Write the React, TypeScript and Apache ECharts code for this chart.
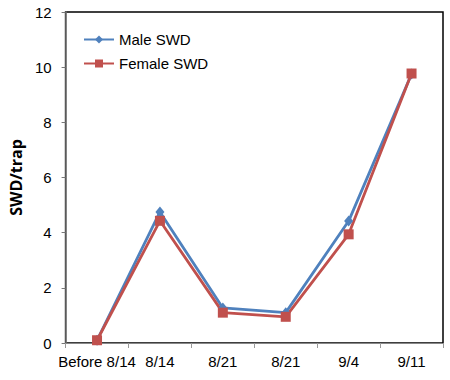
import React, { useEffect, useRef } from "react";
import * as echarts from "echarts";

const categories = ["Before 8/14", "8/14", "8/21", "8/21", "9/4", "9/11"];
const maleSWD = [0.1, 4.75, 1.27, 1.1, 4.42, 9.75];
const femaleSWD = [0.1, 4.43, 1.1, 0.95, 3.94, 9.77];
const yTicks = { min: 0, max: 12, interval: 2 };

export default function App() {
  const ref = useRef<HTMLDivElement>(null);
  useEffect(() => {
    if (!ref.current) return;
    const chart = echarts.init(ref.current, null, { renderer: "svg" });
    const font = "Liberation Sans, Arial, sans-serif";
    chart.setOption({
      animation: false,
      backgroundColor: "#fff",
      grid: {
        left: 60,
        right: 7,
        top: 12,
        bottom: 37,
        show: true,
        borderColor: "#000",
        borderWidth: 1.5,
      },
      legend: {
        orient: "vertical",
        left: 78,
        top: 27,
        itemWidth: 30,
        itemHeight: 10,
        itemGap: 9,
        textStyle: { fontFamily: font, fontSize: 15, color: "#000" },
        data: ["Male SWD", "Female SWD"],
      },
      xAxis: {
        type: "category",
        data: categories,
        boundaryGap: true,
        axisLine: { lineStyle: { color: "#888", width: 1 } },
        axisTick: { show: true, length: 5, lineStyle: { color: "#999" } },
        axisLabel: {
          interval: 0,
          fontFamily: font,
          fontSize: 15,
          color: "#000",
          margin: 11,
        },
      },
      yAxis: {
        type: "value",
        min: yTicks.min,
        max: yTicks.max,
        interval: yTicks.interval,
        name: "SWD/trap",
        nameLocation: "middle",
        nameGap: 38,
        nameRotate: 90,
        nameTextStyle: {
          fontFamily: "Open Sans, Noto Sans, sans-serif",
          fontWeight: "bold",
          fontSize: 16,
          color: "#000",
        },
        axisLine: { show: true, lineStyle: { color: "#777", width: 1.5 } },
        axisTick: { show: true, length: 4, lineStyle: { color: "#777" } },
        splitLine: { show: false },
        axisLabel: {
          fontFamily: font,
          fontSize: 15,
          color: "#000",
          margin: 14,
        },
      },
      series: [
        {
          name: "Male SWD",
          type: "line",
          data: maleSWD,
          symbol: "diamond",
          symbolSize: [9, 11],
          lineStyle: { color: "#4F81BD", width: 2.8 },
          itemStyle: { color: "#4F81BD" },
        },
        {
          name: "Female SWD",
          type: "line",
          data: femaleSWD,
          symbol: "rect",
          symbolSize: 10,
          lineStyle: { color: "#C0504D", width: 2.8 },
          itemStyle: { color: "#C0504D" },
        },
      ],
    });
    return () => chart.dispose();
  }, []);
  return (
    <div
      ref={ref}
      style={{ position: "absolute", left: 0, top: 0, width: 450, height: 380 }}
    />
  );
}
